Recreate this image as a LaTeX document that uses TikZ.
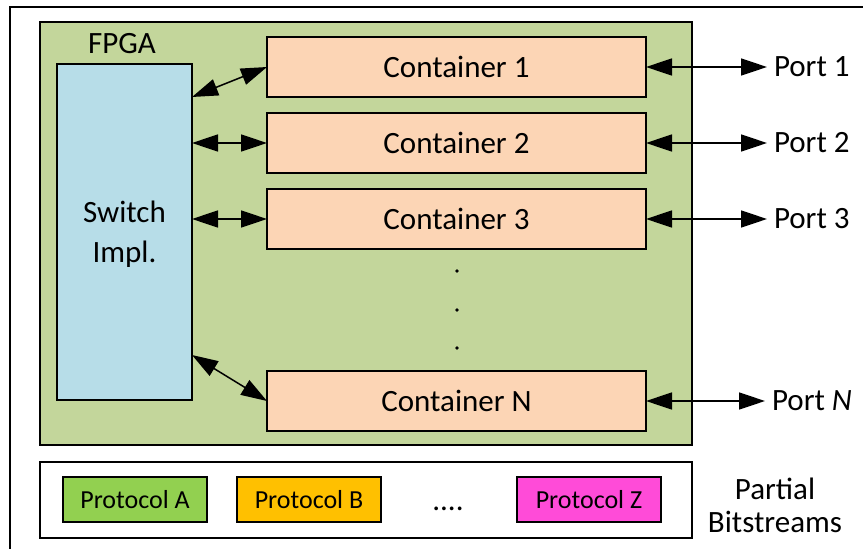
\documentclass[tikz,border=0pt]{standalone}
\usepackage{fontspec}
\setmainfont{Carlito}
\usetikzlibrary{arrows.meta}
\definecolor{fpgagreen}{HTML}{C3D69B}
\definecolor{switchblue}{HTML}{B7DDE8}
\definecolor{contpeach}{HTML}{FCD5B5}
\definecolor{protoA}{HTML}{92D050}
\definecolor{protoB}{HTML}{FFC000}
\definecolor{protoZ}{HTML}{FF4BD8}
\newcommand{\bigtxt}{\fontsize{31}{40}\selectfont}
\newcommand{\prototxt}{\fontsize{26}{30}\selectfont}
\tikzset{
  box/.style={draw=black, line width=1.8pt, inner sep=0pt, outer sep=0pt},
  container/.style={box, fill=contpeach, minimum width=379pt, minimum height=60pt, font=\bigtxt},
  proto/.style={draw=black, line width=1.3pt, inner sep=0pt, outer sep=0pt, minimum width=144pt, minimum height=45pt, font=\prototxt},
  link/.style={line width=1.5pt, {Triangle[length=26pt,width=17pt]}-{Triangle[length=26pt,width=17pt]}},
  lbl/.style={font=\bigtxt, inner sep=0pt},
  portlbl/.style={lbl, anchor=west, outer sep=7pt},
}
\begin{document}
\begin{tikzpicture}[x=1pt,y=-1pt]
  \useasboundingbox (0,0) rectangle (863,549);
  % outer frame, running past the page on the right and bottom
  \begin{scope}
    \clip (0,0) rectangle (863,549);
    \draw[line width=1.8pt] (10,7) rectangle (900,600);
  \end{scope}
  % FPGA region
  \node[box, fill=fpgagreen, minimum width=652pt, minimum height=423pt, anchor=north west] (fpga) at (40,22) {};
  \node[lbl, anchor=base] (fpgalbl) at (122,53) {FPGA};
  % switch
  \node[box, fill=switchblue, minimum width=135pt, minimum height=336pt, anchor=north west] (sw) at (57,64) {};
  \node[lbl, align=center] (swlbl) at (124.5,234) {Switch\\Impl.};
  % containers
  \node[container, anchor=north west] (c1) at (267,37) {Container 1};
  \node[container, anchor=north west] (c2) at (267,113) {Container 2};
  \node[container, anchor=north west] (c3) at (267,189) {Container 3};
  \node[container, anchor=north west] (cn) at (267,371) {Container N};
  % vertical ellipsis
  \foreach \yy/\nm in {271/d1,310/d2,348/d3}
    \node[circle, fill=black, inner sep=0pt, minimum size=3.6pt] (\nm) at (457,\yy) {};
  % switch to container links
  \coordinate (s1) at (192,97);
  \coordinate (sn) at (192,355);
  \draw[link] (s1) -- (c1.west);
  \draw[link] (sw.east |- c2.west) -- (c2.west);
  \draw[link] (sw.east |- c3.west) -- (c3.west);
  \draw[link] (sn) -- (cn.west);
  % ports (outer sep leaves the gap between arrow tip and text)
  \node[portlbl] (p1) at (767,67) {Port 1};
  \node[portlbl] (p2) at (767,143) {Port 2};
  \node[portlbl] (p3) at (767,219) {Port 3};
  \node[portlbl] (pn) at (765,401) {Port \textit{N}};
  \draw[link] (c1.east) -- (c1.east -| p1.west);
  \draw[link] (c2.east) -- (c2.east -| p2.west);
  \draw[link] (c3.east) -- (c3.east -| p3.west);
  \draw[link] (cn.east) -- (cn.east -| pn.west);
  % partial bitstreams
  \node[box, fill=white, minimum width=652pt, minimum height=76pt, anchor=north west] (bits) at (40,462) {};
  \node[proto, fill=protoA, anchor=north west] (pa) at (63,477) {Protocol A};
  \node[proto, fill=protoB, anchor=north west] (pb) at (237,477) {Protocol B};
  \node[proto, fill=protoZ, anchor=north west] (pz) at (517,477) {Protocol Z};
  \node[lbl, anchor=base] (more) at (448,510) {....};
  \node[lbl, align=center, font=\fontsize{31}{33}\selectfont] (bitslbl) at (775,505) {Partial\\Bitstreams};
\end{tikzpicture}
\end{document}
